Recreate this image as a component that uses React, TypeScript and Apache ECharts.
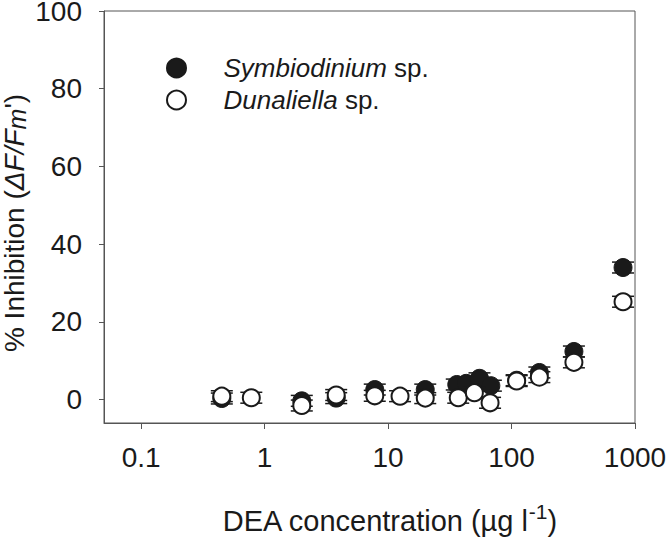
import React, { useEffect, useRef } from "react";
import * as echarts from "echarts";

// DEA concentration (µg l-1)
const symbConc = [0.45, 2.0, 3.8, 7.8, 20, 36, 43, 55, 68, 110, 168, 320, 800];
const symbInhib = [0.3, -0.3, 0.4, 2.6, 2.6, 3.9, 4.2, 5.5, 3.6, 5.0, 7.0, 12.4, 34.0];
const symbErr = [1.4, 1.4, 1.4, 1.4, 1.4, 1.4, 1.4, 1.4, 1.4, 1.4, 1.4, 1.4, 1.4];

const dunaConc = [0.45, 0.78, 2.0, 3.8, 7.8, 12.5, 20, 37, 50, 67, 110, 168, 320, 800];
const dunaInhib = [0.9, 0.5, -1.5, 1.2, 1.0, 0.9, 0.4, 0.5, 1.8, -0.8, 4.8, 5.8, 9.6, 25.2];
const dunaErr = [1.4, 1.4, 1.4, 1.4, 1.4, 1.4, 1.4, 1.4, 1.4, 1.4, 1.4, 1.4, 1.4, 1.4];

const xTicks = [0.1, 1, 10, 100, 1000];
const yTicks = [0, 20, 40, 60, 80, 100];

const FONT = "Liberation Sans, Arial, sans-serif";
const INK = "#1a1a1a";
const AXIS = "#555";

function errBars(params: any, api: any) {
  const x = api.value(0);
  const y = api.value(1);
  const e = api.value(2);
  const top = api.coord([x, y + e]);
  const bot = api.coord([x, y - e]);
  const hw = 11;
  const style = { stroke: INK, lineWidth: 1.5 };
  return {
    type: "group",
    children: [
      { type: "line", shape: { x1: top[0], y1: top[1], x2: bot[0], y2: bot[1] }, style },
      { type: "line", shape: { x1: top[0] - hw, y1: top[1], x2: top[0] + hw, y2: top[1] }, style },
      { type: "line", shape: { x1: bot[0] - hw, y1: bot[1], x2: bot[0] + hw, y2: bot[1] }, style },
    ],
  };
}

export default function App() {
  const ref = useRef<HTMLDivElement>(null);
  useEffect(() => {
    if (!ref.current) return;
    const chart = echarts.init(ref.current, undefined, { renderer: "svg" });
    const symbData = symbConc.map((c, i) => [c, symbInhib[i]]);
    const dunaData = dunaConc.map((c, i) => [c, dunaInhib[i]]);
    const symbErrData = symbConc.map((c, i) => [c, symbInhib[i], symbErr[i]]);
    const dunaErrData = dunaConc.map((c, i) => [c, dunaInhib[i], dunaErr[i]]);
    chart.setOption({
      animation: false,
      backgroundColor: "#fff",
      textStyle: { fontFamily: FONT },
      grid: {
        left: 104,
        right: 31,
        top: 11,
        bottom: 120,
        show: true,
        borderColor: AXIS,
        borderWidth: 1,
        containLabel: false,
        outerBoundsMode: "none",
      },
      legend: {
        orient: "vertical",
        left: 161,
        top: 50,
        itemWidth: 84,
        itemHeight: 19,
        itemGap: 6,
        data: ["Symbiodinium sp.", "Dunaliella sp."],
        selectedMode: false,
        formatter: (name: string) => {
          const parts = name.split(" ");
          return "{i|" + parts[0] + "}{n| " + parts.slice(1).join(" ") + "}";
        },
        textStyle: {
          rich: {
            i: { fontFamily: FONT, fontStyle: "italic", fontSize: 26, color: INK },
            n: { fontFamily: FONT, fontSize: 26, color: INK },
          },
        },
      },
      xAxis: {
        type: "log",
        logBase: 10,
        min: 0.05,
        max: 1000,
        splitLine: { show: false },
        axisLine: { onZero: false, lineStyle: { color: AXIS, width: 1 } },
        axisTick: { show: true, inside: false, length: 6, lineStyle: { color: AXIS }, customValues: xTicks },
        axisLabel: {
          customValues: xTicks,
          fontFamily: FONT,
          fontSize: 28,
          color: INK,
          margin: 20,
          formatter: (v: number) => (xTicks.indexOf(v) >= 0 ? String(v) : ""),
        },
        name: "{t|DEA concentration (µg l}{s|-1}{t|)}",
        nameLocation: "middle",
        nameGap: 78,
        nameTextStyle: {
          padding: [0, 0, 0, 40],
          rich: {
            t: { fontFamily: FONT, fontSize: 29, color: INK, lineHeight: 34, verticalAlign: "bottom" },
            s: { fontFamily: FONT, fontSize: 21, color: INK, lineHeight: 34, verticalAlign: "top" },
          },
        },
      },
      yAxis: {
        type: "value",
        min: -6,
        max: 100,
        splitLine: { show: false },
        axisLine: { onZero: false, lineStyle: { color: AXIS, width: 1 } },
        axisTick: { show: true, inside: false, length: 5, lineStyle: { color: AXIS }, customValues: yTicks },
        axisLabel: {
          customValues: yTicks,
          fontFamily: FONT,
          fontSize: 28,
          lineHeight: 18,
          color: INK,
          margin: 22,
        },
        name: "{t|% Inhibition (}{i|ΔF/F}{m|m}{t|')}",
        nameLocation: "middle",
        nameGap: 75,
        nameMoveOverlap: false,
        nameRotate: 90,
        nameTextStyle: {
          padding: [0, 12, 0, 0],
          rich: {
            t: { fontFamily: FONT, fontSize: 28, color: INK, lineHeight: 29, verticalAlign: "middle" },
            i: { fontFamily: FONT, fontSize: 28, fontStyle: "italic", color: INK, lineHeight: 29, verticalAlign: "middle" },
            m: { fontFamily: FONT, fontSize: 25, fontStyle: "italic", color: INK, lineHeight: 25, verticalAlign: "bottom" },
          },
        },
      },
      series: [
        {
          type: "custom",
          name: "symbErr",
          renderItem: errBars,
          data: symbErrData,
          encode: { x: 0, y: 1 },
          z: 1,
          silent: true,
        },
        {
          type: "scatter",
          name: "Symbiodinium sp.",
          data: symbData,
          symbol: "circle",
          symbolSize: 18,
          itemStyle: { color: INK, borderColor: INK, borderWidth: 1, opacity: 1 },
          z: 2,
        },
        {
          type: "custom",
          name: "dunaErr",
          renderItem: errBars,
          data: dunaErrData,
          encode: { x: 0, y: 1 },
          z: 3,
          silent: true,
        },
        {
          type: "scatter",
          name: "Dunaliella sp.",
          data: dunaData,
          symbol: "circle",
          symbolSize: 17,
          itemStyle: { color: "#fff", borderColor: INK, borderWidth: 2, opacity: 1 },
          z: 4,
        },
      ],
    });
    return () => chart.dispose();
  }, []);
  return (
    <div
      ref={ref}
      style={{ position: "fixed", left: 0, top: 0, width: 666, height: 543 }}
    />
  );
}
